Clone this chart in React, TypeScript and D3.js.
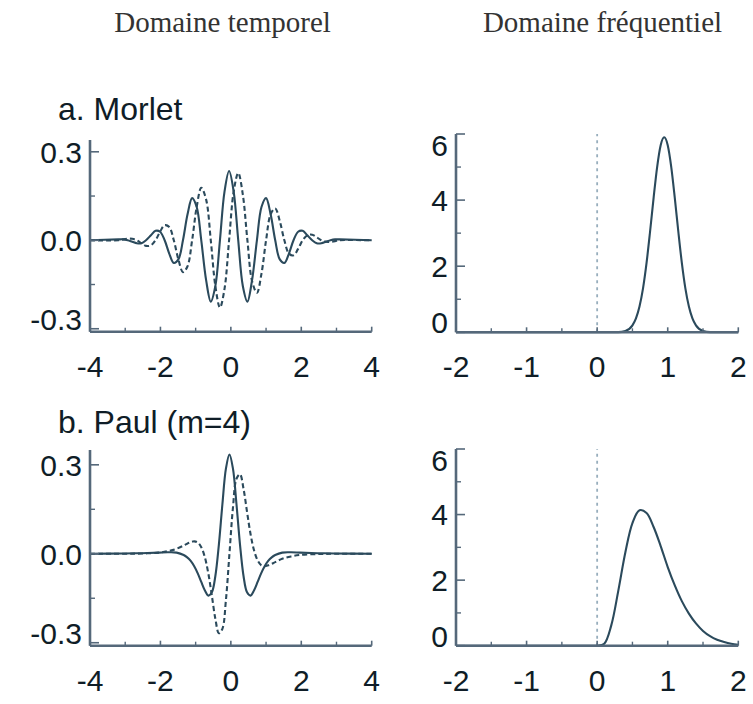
import React from 'react';
import * as d3 from 'd3';

// ---------- data ----------
// Morlet, time domain (solid = real part, dashed = imaginary part)
const morletT = [-4, -3.19, -3.06, -2.93, -2.8, -2.67, -2.54, -2.41, -2.27, -2.14, -2.01, -1.88, -1.75, -1.62, -1.49, -1.36, -1.23, -1.1, -0.97, -0.84, -0.7, -0.57, -0.44, -0.31, -0.18, -0.05, 0.08, 0.21, 0.34, 0.47, 0.6, 0.74, 0.87, 1.0, 1.13, 1.26, 1.39, 1.52, 1.65, 1.78, 1.91, 2.04, 2.17, 2.31, 2.44, 2.57, 2.7, 2.83, 2.96, 3.09, 4];
const morletRe = [0, 0.003, 0.003, 0, -0.005, -0.01, -0.01, 0, 0.017, 0.032, 0.029, 0, -0.045, -0.077, -0.065, 0, 0.088, 0.143, 0.113, 0, -0.137, -0.208, -0.155, 0, 0.165, 0.235, 0.165, 0, -0.155, -0.208, -0.137, 0, 0.113, 0.143, 0.088, 0, -0.065, -0.077, -0.045, 0, 0.029, 0.032, 0.017, 0, -0.01, -0.01, -0.005, 0, 0.003, 0.003, 0];
const morletIm = [0, 0, 0.003, 0.005, 0.005, 0, -0.01, -0.019, -0.017, 0, 0.029, 0.051, 0.045, 0, -0.065, -0.108, -0.088, 0, 0.113, 0.178, 0.137, 0, -0.155, -0.228, -0.165, 0, 0.165, 0.228, 0.155, 0, -0.137, -0.178, -0.113, 0, 0.088, 0.108, 0.065, 0, -0.045, -0.051, -0.029, 0, 0.017, 0.019, 0.01, 0, -0.005, -0.005, -0.003, 0, 0];

// Paul (m=4), time domain
const paulT = [-4, -3.04, -2.54, -2.04, -1.79, -1.54, -1.34, -1.24, -1.14, -1.04, -0.94, -0.84, -0.74, -0.64, -0.54, -0.44, -0.34, -0.24, -0.14, -0.04, 0.06, 0.16, 0.26, 0.36, 0.46, 0.56, 0.66, 0.76, 0.86, 0.96, 1.06, 1.16, 1.26, 1.46, 1.71, 1.96, 2.46, 2.96, 4];
const paulRe = [0, 0.001, 0.002, 0.004, 0.005, 0.004, -0.004, -0.012, -0.024, -0.042, -0.066, -0.095, -0.123, -0.141, -0.13, -0.075, 0.031, 0.167, 0.287, 0.335, 0.287, 0.167, 0.031, -0.075, -0.13, -0.141, -0.123, -0.095, -0.066, -0.042, -0.024, -0.012, -0.004, 0.004, 0.005, 0.004, 0.002, 0.001, 0];
const paulIm = [0, 0, 0.001, 0.004, 0.009, 0.017, 0.028, 0.034, 0.039, 0.042, 0.038, 0.022, -0.011, -0.066, -0.141, -0.219, -0.268, -0.253, -0.156, 0, 0.156, 0.253, 0.268, 0.219, 0.141, 0.066, 0.011, -0.022, -0.038, -0.042, -0.039, -0.034, -0.028, -0.017, -0.009, -0.004, -0.001, 0, 0];

// Morlet, frequency domain
const morletW = [-2, 0.3, 0.4, 0.5, 0.55, 0.6, 0.65, 0.7, 0.75, 0.8, 0.85, 0.9, 0.95, 1.0, 1.05, 1.1, 1.15, 1.2, 1.25, 1.3, 1.35, 1.4, 1.5, 1.6, 2];
const morletF = [0, 0.005, 0.04, 0.21, 0.42, 0.78, 1.33, 2.1, 3.05, 4.07, 5.0, 5.66, 5.9, 5.66, 5.0, 4.07, 3.05, 2.1, 1.33, 0.78, 0.42, 0.21, 0.04, 0.005, 0];

// Paul, frequency domain
const paulW = [-2, -0.05, 0, 0.1, 0.2, 0.3, 0.4, 0.5, 0.6, 0.7, 0.8, 0.9, 1.0, 1.1, 1.2, 1.3, 1.4, 1.5, 1.6, 1.7, 1.8, 1.9, 2.0];
const paulF = [0, 0, 0, 0.06, 0.62, 1.68, 2.85, 3.74, 4.13, 4.05, 3.62, 3.04, 2.4, 1.84, 1.36, 0.98, 0.68, 0.45, 0.29, 0.18, 0.11, 0.06, 0.03];

// ticks and labels
const timeXMajor = [-4, -2, 0, 2, 4];
const timeXMinor = [-3, -1, 1, 3];
const timeXLabels = ['-4', '-2', '0', '2', '4'];
const timeYMajor = [-0.3, 0, 0.3];
const timeYMinor = [-0.15, 0.15];
const timeYLabels = ['-0.3', '0.0', '0.3'];
const freqXMajor = [-2, -1, 0, 1, 2];
const freqXMinor = [-1.5, -0.5, 0.5, 1.5];
const freqXLabels = ['-2', '-1', '0', '1', '2'];
const freqYMajor = [0, 2, 4, 6];
const freqYMinor = [1, 3, 5];
const freqYLabels = ['0', '2', '4', '6'];

const colTitles = ['Domaine temporel', 'Domaine fréquentiel'];
const rowTitles = ['a. Morlet', 'b. Paul (m=4)'];

// ---------- style ----------
const AXIS = '#55687a';
const CURVE = '#2b4a5c';
const TEXT = '#0f1d27';
const SANS = '"Liberation Sans", Arial, sans-serif';
const SERIF = '"Liberation Serif", "Times New Roman", serif';

type Series = { x: number[]; y: number[]; dashed?: boolean; curve?: any };

type PanelProps = {
  xDomain: [number, number];
  yDomain: [number, number];
  xRange: [number, number];
  yRange: [number, number];
  xMajor: number[];
  xMinor: number[];
  xLabels: string[];
  yMajor: number[];
  yMinor: number[];
  yLabels: string[];
  series: Series[];
  zeroMarker?: boolean;
};

function Panel(p: PanelProps) {
  const xs = d3.scaleLinear().domain(p.xDomain).range(p.xRange);
  const ys = d3.scaleLinear().domain(p.yDomain).range(p.yRange);
  const x0 = p.xRange[0];
  const x1 = p.xRange[1];
  const yb = p.yRange[0];
  const yt = p.yRange[1];

  return (
    <g>
      {p.zeroMarker && (
        <line x1={xs(0)} x2={xs(0)} y1={yb} y2={yt} stroke="#98aebd" strokeWidth={1.8} strokeDasharray="3,4" />
      )}
      {p.series.map((s, i) => {
        const pts = s.x.map((v, j) => [v, s.y[j]] as [number, number]);
        const line = d3
          .line<[number, number]>()
          .x((d) => xs(d[0]))
          .y((d) => ys(Math.max(p.yDomain[0], d[1])))
          .curve(s.curve || d3.curveCatmullRom.alpha(0.5));
        return (
          <path
            key={i}
            d={line(pts) || ''}
            fill="none"
            stroke={CURVE}
            strokeWidth={2.1}
            strokeDasharray={s.dashed ? '5,3' : undefined}
          />
        );
      })}
      {/* axes */}
      <line x1={x0} x2={x1} y1={yb} y2={yb} stroke={AXIS} strokeWidth={2.6} />
      <line x1={x0} x2={x0} y1={yb} y2={yt} stroke={AXIS} strokeWidth={2.6} />
      {p.xMajor.map((v) => (
        <line key={'xM' + v} x1={xs(v)} x2={xs(v)} y1={yb} y2={yb - 5} stroke={AXIS} strokeWidth={1.6} />
      ))}
      {p.xMinor.map((v) => (
        <line key={'xm' + v} x1={xs(v)} x2={xs(v)} y1={yb} y2={yb - 4} stroke={AXIS} strokeWidth={1.4} />
      ))}
      {p.yMajor.map((v) => (
        <line key={'yM' + v} x1={x0} x2={x0 + 9} y1={ys(v)} y2={ys(v)} stroke={AXIS} strokeWidth={1.6} />
      ))}
      {p.yMinor.map((v) => (
        <line key={'ym' + v} x1={x0} x2={x0 + 5} y1={ys(v)} y2={ys(v)} stroke={AXIS} strokeWidth={1.4} />
      ))}
      {p.xMajor.map((v, i) => (
        <text
          key={'xl' + v}
          x={xs(v)}
          y={yb + 34}
          dy="0.36em"
          textAnchor="middle"
          fontFamily={SANS}
          fontSize={30}
          fill={TEXT}
        >
          {p.xLabels[i]}
        </text>
      ))}
      {p.yMajor.map((v, i) => {
        const y = ys(v);
        let shift = 0;
        if (y > yb - 4) shift = -10;
        else if (y < yt + 4) shift = 11;
        return (
          <text
            key={'yl' + v}
            x={x0 - 8}
            y={y + shift}
            dy="0.36em"
            textAnchor="end"
            fontFamily={SANS}
            fontSize={30}
            fill={TEXT}
          >
            {p.yLabels[i]}
          </text>
        );
      })}
    </g>
  );
}

export default function App() {
  const timeX: [number, number] = [90, 371.7];
  const freqX: [number, number] = [456, 738.3];
  return (
    <svg
      width={753}
      height={704}
      viewBox="0 0 753 704"
      style={{ position: 'absolute', left: 0, top: 0, background: '#ffffff' }}
    >
      <rect x={0} y={0} width={753} height={704} fill="#ffffff" />
      <text x={222.5} y={32} textAnchor="middle" fontFamily={SERIF} fontSize={29} fill="#333333">
        {colTitles[0]}
      </text>
      <text x={602.5} y={32} textAnchor="middle" fontFamily={SERIF} fontSize={29} fill="#333333">
        {colTitles[1]}
      </text>
      <text x={58} y={120} fontFamily={SANS} fontSize={32} fill={TEXT}>
        {rowTitles[0]}
      </text>
      <text x={58} y={433} fontFamily={SANS} fontSize={32} fill={TEXT}>
        {rowTitles[1]}
      </text>

      <Panel
        xDomain={[-4, 4]}
        yDomain={[-0.31, 0.34]}
        xRange={timeX}
        yRange={[331.7, 140]}
        xMajor={timeXMajor}
        xMinor={timeXMinor}
        xLabels={timeXLabels}
        yMajor={timeYMajor}
        yMinor={timeYMinor}
        yLabels={timeYLabels}
        series={[
          { x: morletT, y: morletRe },
          { x: morletT, y: morletIm, dashed: true },
        ]}
      />
      <Panel
        xDomain={[-2, 2]}
        yDomain={[0, 6]}
        xRange={freqX}
        yRange={[332.3, 134]}
        xMajor={freqXMajor}
        xMinor={freqXMinor}
        xLabels={freqXLabels}
        yMajor={freqYMajor}
        yMinor={freqYMinor}
        yLabels={freqYLabels}
        zeroMarker
        series={[{ x: morletW, y: morletF, curve: d3.curveMonotoneX }]}
      />
      <Panel
        xDomain={[-4, 4]}
        yDomain={[-0.31, 0.35]}
        xRange={timeX}
        yRange={[645.7, 450]}
        xMajor={timeXMajor}
        xMinor={timeXMinor}
        xLabels={timeXLabels}
        yMajor={timeYMajor}
        yMinor={timeYMinor}
        yLabels={timeYLabels}
        series={[
          { x: paulT, y: paulRe },
          { x: paulT, y: paulIm, dashed: true },
        ]}
      />
      <Panel
        xDomain={[-2, 2]}
        yDomain={[0, 6]}
        xRange={freqX}
        yRange={[645.7, 449]}
        xMajor={freqXMajor}
        xMinor={freqXMinor}
        xLabels={freqXLabels}
        yMajor={freqYMajor}
        yMinor={freqYMinor}
        yLabels={freqYLabels}
        zeroMarker
        series={[{ x: paulW, y: paulF, curve: d3.curveCatmullRom.alpha(0.5) }]}
      />
    </svg>
  );
}
